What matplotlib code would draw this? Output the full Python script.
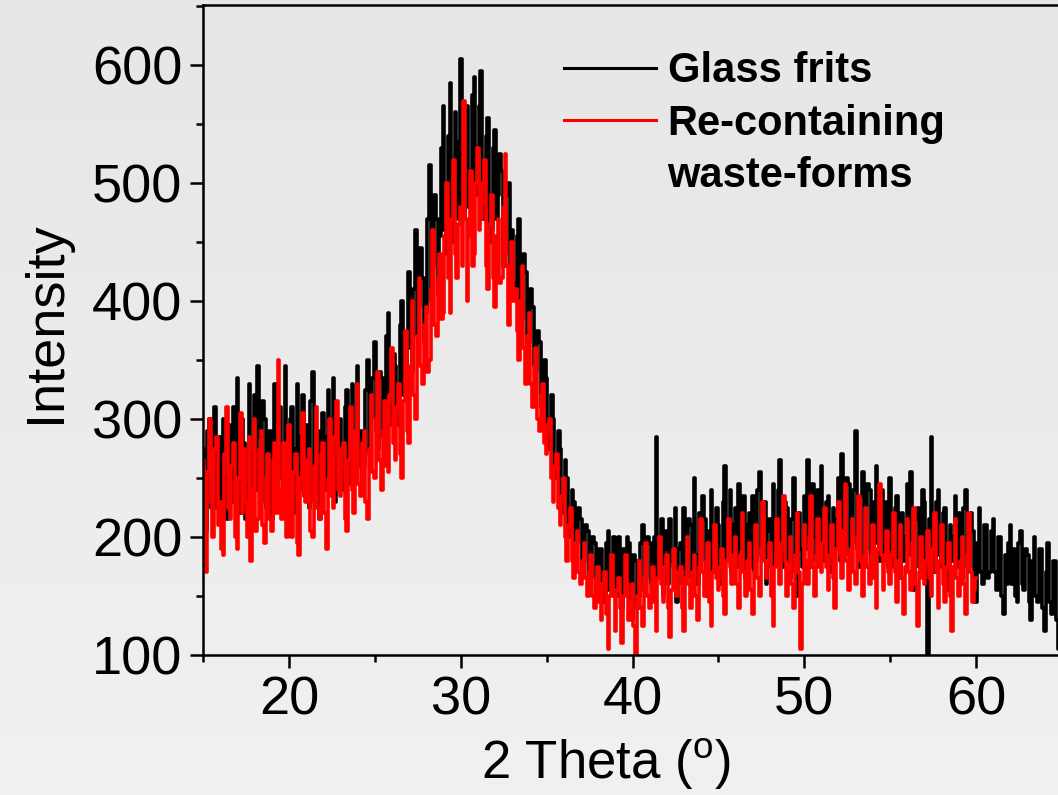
import numpy as np
import matplotlib.pyplot as plt
from matplotlib.lines import Line2D
from matplotlib.ticker import MultipleLocator

plt.rcParams['font.family'] = ['Liberation Sans', 'DejaVu Sans']
plt.rcParams['mathtext.fontset'] = 'custom'
plt.rcParams['mathtext.rm'] = 'Liberation Sans'

# XRD patterns, 2 theta step 0.1 deg (one row = 2 deg)
theta_glass = np.round(np.arange(15.0, 65.01, 0.1), 1)
glass_frits = [
    275, 240, 205, 290, 300, 225, 240, 310, 225, 260, 285, 215, 300, 250, 215, 295, 260, 230, 310, 245,
    335, 260, 220, 300, 280, 215, 245, 330, 205, 270, 320, 240, 345, 285, 230, 315, 300, 225, 255, 290,
    215, 280, 330, 235, 290, 310, 250, 225, 345, 260, 225, 300, 310, 220, 275, 330, 240, 285, 320, 235,
    295, 250, 225, 315, 340, 230, 260, 290, 215, 275, 305, 240, 285, 325, 245, 265, 335, 230, 265, 300,
    300, 255, 240, 310, 325, 245, 280, 330, 250, 290, 345, 260, 290, 240, 260, 325, 350, 270, 300, 335,
    365, 290, 275, 340, 335, 285, 300, 370, 390, 295, 310, 355, 345, 300, 295, 380, 400, 320, 330, 375,
    425, 360, 340, 410, 460, 370, 395, 445, 420, 365, 390, 470, 515, 400, 430, 490, 470, 405, 455, 530,
    565, 460, 440, 540, 585, 450, 480, 560, 535, 470, 605, 500, 470, 545, 565, 480, 510, 575, 590, 490,
    525, 565, 595, 470, 480, 540, 555, 450, 460, 530, 545, 470, 490, 525, 510, 430, 440, 490, 500, 420,
    460, 415, 410, 455, 470, 390, 385, 440, 425, 360, 365, 410, 395, 345, 340, 375, 365, 310, 315, 350,
    335, 285, 275, 320, 300, 255, 250, 290, 275, 225, 220, 265, 250, 200, 205, 240, 230, 185, 195, 225,
    215, 170, 180, 210, 205, 160, 165, 200, 195, 150, 155, 190, 190, 145, 150, 195, 205, 155, 165, 200,
    185, 150, 200, 175, 140, 190, 160, 200, 195, 135, 130, 185, 180, 140, 150, 195, 210, 155, 165, 200,
    195, 160, 155, 200, 285, 165, 170, 215, 150, 190, 205, 160, 215, 180, 175, 225, 145, 190, 195, 160,
    225, 175, 165, 215, 210, 160, 250, 185, 160, 220, 180, 235, 215, 165, 150, 205, 240, 170, 185, 225,
    210, 165, 160, 230, 260, 180, 195, 240, 170, 210, 225, 175, 245, 190, 180, 235, 165, 210, 220, 175,
    235, 170, 180, 240, 255, 185, 195, 230, 160, 205, 215, 175, 245, 195, 190, 240, 265, 185, 175, 230,
    225, 180, 165, 215, 250, 170, 150, 220, 190, 175, 235, 190, 265, 200, 175, 245, 200, 180, 240, 185,
    260, 195, 180, 230, 235, 175, 170, 225, 190, 215, 250, 180, 270, 200, 185, 250, 245, 180, 195, 240,
    290, 190, 175, 235, 255, 180, 190, 245, 240, 175, 170, 230, 260, 195, 180, 240, 185, 205, 230, 175,
    250, 190, 175, 225, 235, 170, 165, 220, 180, 200, 245, 185, 255, 190, 155, 215, 225, 175, 190, 240,
    230, 170, 98, 215, 285, 180, 170, 230, 240, 185, 175, 220, 225, 170, 155, 210, 180, 200, 235, 175,
    220, 180, 165, 225, 240, 175, 175, 220, 205, 160, 145, 195, 225, 170, 160, 210, 210, 165, 170, 205,
    215, 170, 155, 200, 200, 150, 135, 185, 160, 195, 210, 160, 190, 150, 145, 195, 205, 160, 155, 190,
    185, 145, 130, 180, 200, 150, 145, 190, 190, 140, 120, 170, 195, 145, 135, 180, 180, 130, 105, 160,
    160,
]

theta_waste = np.round(np.arange(15.0, 60.01, 0.1), 1)
re_waste = [
    265, 215, 170, 255, 300, 230, 200, 275, 285, 210, 230, 190, 185, 270, 310, 225, 215, 260, 280, 200,
    190, 250, 305, 220, 275, 230, 200, 285, 180, 240, 300, 205, 215, 275, 290, 210, 195, 250, 270, 215,
    205, 265, 280, 220, 350, 240, 215, 280, 225, 200, 295, 240, 200, 255, 270, 195, 185, 250, 305, 235,
    230, 265, 275, 205, 200, 260, 310, 225, 215, 270, 280, 220, 190, 250, 300, 235, 225, 285, 315, 240,
    235, 275, 280, 215, 205, 265, 310, 240, 220, 290, 330, 245, 235, 280, 290, 230, 215, 275, 320, 255,
    250, 300, 340, 265, 240, 290, 315, 260, 255, 320, 360, 280, 265, 310, 330, 270, 250, 315, 375, 290,
    280, 345, 400, 320, 300, 370, 420, 345, 330, 380, 395, 340, 350, 410, 460, 380, 370, 420, 440, 385,
    390, 455, 500, 420, 390, 470, 520, 440, 420, 465, 480, 430, 570, 470, 400, 455, 510, 430, 440, 500,
    530, 460, 470, 500, 520, 430, 410, 465, 490, 420, 395, 455, 470, 415, 420, 480, 525, 430, 380, 425,
    450, 400, 410, 375, 350, 400, 430, 360, 330, 370, 390, 330, 310, 345, 360, 300, 290, 320, 330, 280,
    270, 295, 300, 250, 230, 260, 270, 225, 210, 235, 250, 200, 180, 210, 225, 180, 165, 195, 205, 170,
    160, 180, 195, 165, 150, 170, 185, 150, 140, 165, 175, 145, 130, 160, 170, 135, 105, 150, 185, 150,
    120, 155, 165, 140, 110, 150, 185, 160, 130, 145, 160, 125, 100, 150, 180, 140, 125, 165, 195, 150,
    140, 160, 175, 145, 120, 165, 200, 160, 145, 175, 185, 140, 115, 155, 190, 165, 150, 170, 175, 140,
    120, 165, 200, 160, 140, 170, 185, 150, 130, 175, 215, 170, 150, 180, 195, 145, 125, 170, 210, 165,
    155, 175, 190, 150, 135, 180, 215, 175, 160, 185, 200, 160, 140, 185, 220, 170, 150, 180, 195, 155,
    135, 170, 210, 165, 150, 190, 230, 180, 165, 180, 195, 150, 125, 175, 215, 180, 160, 195, 235, 180,
    150, 175, 200, 160, 140, 185, 220, 170, 105, 160, 210, 180, 160, 200, 235, 175, 150, 185, 215, 175,
    170, 195, 225, 175, 155, 185, 210, 165, 140, 190, 230, 185, 165, 205, 245, 180, 155, 190, 215, 170,
    160, 200, 235, 180, 150, 185, 225, 175, 160, 185, 210, 165, 140, 190, 245, 185, 155, 180, 205, 170,
    160, 185, 220, 170, 145, 180, 210, 165, 135, 175, 215, 170, 155, 195, 225, 160, 125, 170, 200, 165,
    160, 180, 205, 165, 150, 190, 220, 170, 140, 180, 210, 160, 145, 175, 195, 150, 120, 175, 215, 165,
    150, 180, 200, 160, 135, 185, 220, 170, 145, 155, 165,
]

W, H = 1058, 795
fig = plt.figure(figsize=(W / 100, H / 100), dpi=100)

# light grey gradient background
bg = fig.add_axes([0, 0, 1, 1], zorder=-1)
bg.imshow(np.linspace(0.90, 0.94, 100).reshape(-1, 1), cmap='gray', vmin=0, vmax=1,
          aspect='auto', extent=[0, 1, 0, 1])
bg.axis('off')

ax = fig.add_axes([203 / W, 1 - 655 / H, 0.812, 650 / H])
ax.patch.set_alpha(0)
ax.plot(theta_glass, glass_frits, color='black', lw=2.6, drawstyle='steps-mid')
ax.plot(theta_waste, re_waste, color='#ff0000', lw=2.6, drawstyle='steps-mid')

ax.set_xlim(15, 65)
ax.set_ylim(100, 651)
ax.xaxis.set_major_locator(MultipleLocator(10))
ax.xaxis.set_minor_locator(MultipleLocator(5))
ax.yaxis.set_major_locator(MultipleLocator(100))
ax.yaxis.set_minor_locator(MultipleLocator(50))
ax.tick_params(which='major', direction='out', length=9.5, width=1.8, labelsize=39, pad=5.5)
ax.tick_params(which='minor', direction='out', length=5, width=1.8)
ax.tick_params(top=False, right=False)
for s in ax.spines.values():
    s.set_linewidth(1.8)
ax.spines['right'].set_visible(False)

fig.text(606 / W, 1 - 779 / H, r'2 Theta ($^{\mathrm{o}}$)', fontsize=38,
         ha='center', va='baseline')
fig.text(46 / W, 1 - 322 / H, 'Intensity', fontsize=39, rotation=90,
         ha='center', va='center')

handles = [Line2D([], [], color='black', lw=2.2),
           Line2D([], [], color='#ff0000', lw=2.2),
           Line2D([], [], color='none')]
ax.legend(handles, ['Glass frits', 'Re-containing', 'waste-forms'],
          loc='upper left', bbox_to_anchor=(0.42, 0.929), frameon=False,
          prop={'weight': 'bold', 'size': 30}, handlelength=2.22,
          handletextpad=0.27, labelspacing=0.3, borderaxespad=0, borderpad=0)

fig.savefig('out.png', dpi=100)
